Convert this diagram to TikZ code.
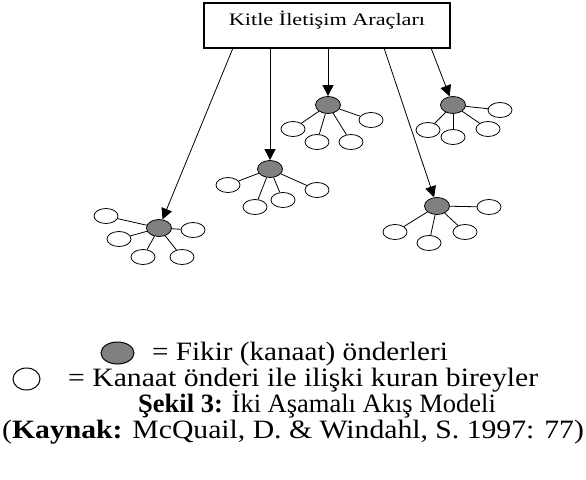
\documentclass[tikz,border=0pt]{standalone}
\usepackage{graphicx}
\usepackage{fontspec}
\setmainfont{Liberation Serif}
\usetikzlibrary{shapes.geometric, arrows.meta}
\definecolor{leadergray}{RGB}{128,128,128}

\begin{document}
\begin{tikzpicture}[x=1pt,y=-1pt]
\tikzstyle{leader} = [ellipse,fill=leadergray,draw=black,line width=0.8pt,minimum width=25pt,minimum height=17pt,inner sep=0pt]
\tikzstyle{member} = [ellipse,fill=white,draw=black,line width=0.8pt,minimum width=24pt,minimum height=15pt,inner sep=0pt]
\tikzstyle{edge} = [-,line width=0.8pt]
\tikzstyle{flow} = [-{Triangle[length=11pt,width=11pt]},line width=0.8pt]
\tikzstyle{caption} = [anchor=base west,inner sep=0pt,font=\fontsize{26.5}{26.5}\selectfont]
\useasboundingbox (0,0) rectangle (586,479);
\node[draw=black,line width=1.2pt,minimum width=246pt,minimum height=45pt,text height=12pt,text depth=13pt,inner sep=0pt] (media) at (327,25.5) {\fontsize{17.5}{17.5}\selectfont\scalebox{1.27}[1]{Kitle İletişim Araçları}};
\coordinate (m1) at (233,48);
\coordinate (m2) at (270,48);
\coordinate (m3) at (328,48);
\coordinate (m4) at (384,48);
\coordinate (m5) at (431,48);
\node[leader] (a0) at (159,228) {};
\node[member] (a1) at (106,216) {};
\node[member] (a2) at (119,239) {};
\node[member] (a3) at (143,257) {};
\node[member] (a4) at (182,257) {};
\node[member] (a5) at (193,230) {};
\node[leader] (b0) at (270,169) {};
\node[member] (b1) at (228,185) {};
\node[member] (b2) at (255,207) {};
\node[member] (b3) at (283,200) {};
\node[member] (b4) at (317,190) {};
\node[leader] (c0) at (328,105) {};
\node[member] (c1) at (293,129) {};
\node[member] (c2) at (317,142) {};
\node[member] (c3) at (351,142) {};
\node[member] (c4) at (371,120) {};
\node[leader] (d0) at (453,105) {};
\node[member] (d1) at (428,130) {};
\node[member] (d2) at (453,137) {};
\node[member] (d3) at (488,129) {};
\node[member] (d4) at (500,110) {};
\node[leader] (e0) at (437,206) {};
\node[member] (e1) at (395,232) {};
\node[member] (e2) at (429,243) {};
\node[member] (e3) at (465,232) {};
\node[member] (e4) at (489,207) {};
\draw[flow] (m1)--(a0);
\draw[flow] (m2)--(b0);
\draw[flow] (m3)--(c0);
\draw[flow] (m4)--(e0);
\draw[flow] (m5)--(d0);
\draw[edge] (a0)--(a1);
\draw[edge] (a0)--(a2);
\draw[edge] (a0)--(a3);
\draw[edge] (a0)--(a4);
\draw[edge] (a0)--(a5);
\draw[edge] (b0)--(b1);
\draw[edge] (b0)--(b2);
\draw[edge] (b0)--(b3);
\draw[edge] (b0)--(b4);
\draw[edge] (c0)--(c1);
\draw[edge] (c0)--(c2);
\draw[edge] (c0)--(c3);
\draw[edge] (c0)--(c4);
\draw[edge] (d0)--(d1);
\draw[edge] (d0)--(d2);
\draw[edge] (d0)--(d3);
\draw[edge] (d0)--(d4);
\draw[edge] (e0)--(e1);
\draw[edge] (e0)--(e2);
\draw[edge] (e0)--(e3);
\draw[edge] (e0)--(e4);
\node[leader,line width=1pt,minimum width=33pt,minimum height=22pt] (keylead) at (117.5,353) {};
\node[member,line width=1pt,minimum width=27pt,minimum height=22pt] (keymember) at (26.5,379) {};
\node[caption] (fikir) at (152,360) {\scalebox{1.1}[1]{= Fikir (kanaat) önderleri}};
\node[caption] (birey) at (68,386) {\scalebox{1.12}[1]{= Kanaat önderi ile ilişki kuran bireyler}};
\node[caption] (sekil) at (138,412) {\scalebox{1.0}[1]{\textbf{Şekil 3:} İki Aşamalı Akış Modeli}};
\node[caption] (kaynak) at (2,438) {\scalebox{1.12}[1]{(\textbf{Kaynak:} McQuail, D. \& Windahl, S. 1997: 77)}};
\end{tikzpicture}
\end{document}
